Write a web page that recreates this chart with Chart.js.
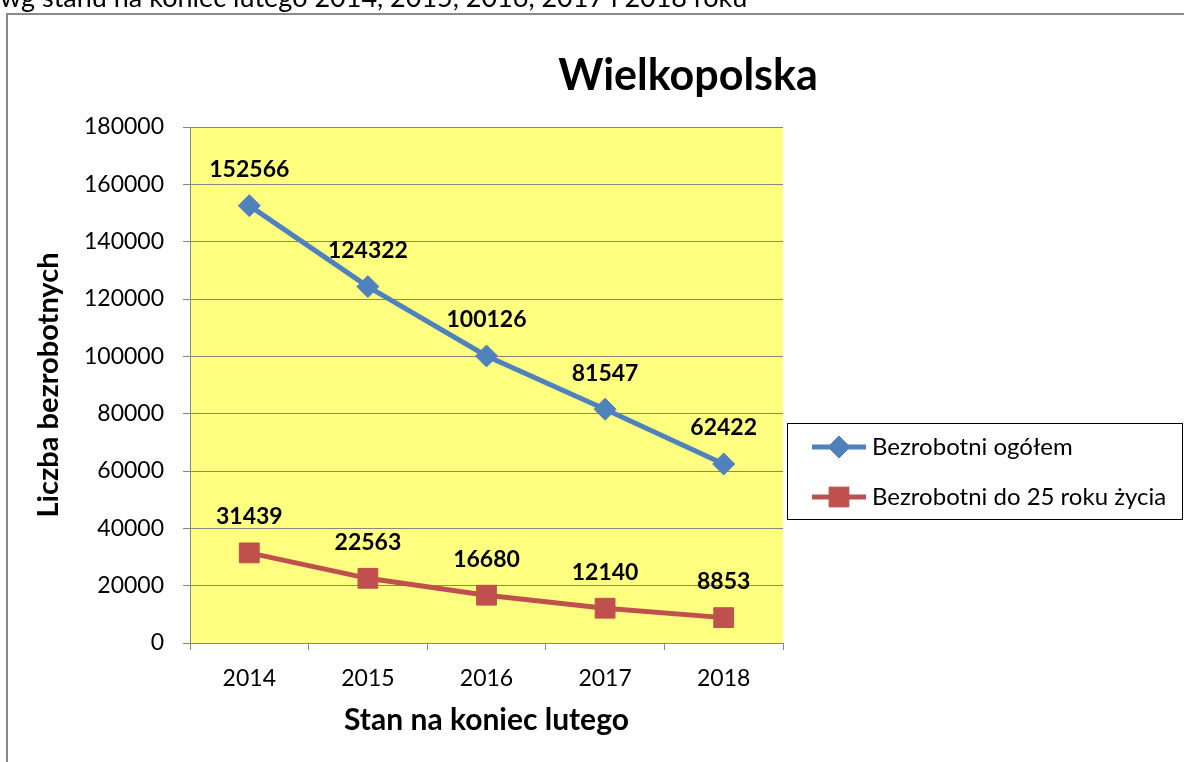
<!DOCTYPE html>
<html>
<head>
<meta charset="utf-8">
<script src="https://cdn.jsdelivr.net/npm/chart.js@4.4.1/dist/chart.umd.min.js"></script>
<style>
  html, body { margin: 0; padding: 0; background: #fff; }
  canvas { display: block; }
</style>
</head>
<body>
<canvas id="chart" width="1184" height="762"></canvas>
<script>
// Data
const years = ['2014', '2015', '2016', '2017', '2018'];
const ogolem = [152566, 124322, 100126, 81547, 62422];
const do25 = [31439, 22563, 16680, 12140, 8853];
const seriesNames = ['Bezrobotni ogółem', 'Bezrobotni do 25 roku życia'];

const BLUE = '#4F81BD';
const RED = '#C0504D';
const GRID = '#868686';
const FONT = 'Lato, "Open Sans", sans-serif';

// yellow plot area, frame, heading
const backdrop = {
    id: 'backdrop',
    beforeDraw(chart) {
        const { ctx, chartArea: a } = chart;
        ctx.save();
        ctx.fillStyle = '#fff';
        ctx.fillRect(0, 0, chart.width, chart.height);
        ctx.fillStyle = '#FFFF80';
        ctx.fillRect(a.left, a.top, a.right - a.left, a.bottom - a.top);

        ctx.strokeStyle = '#8a8a8a';
        ctx.lineWidth = 2;
        ctx.beginPath();
        ctx.moveTo(7, 800);
        ctx.lineTo(7, 14);
        ctx.lineTo(1200, 14);
        ctx.stroke();

        ctx.fillStyle = '#000';
        ctx.textBaseline = 'alphabetic';
        ctx.textAlign = 'left';
        ctx.font = '27px ' + FONT;
        ctx.fillText('wg stanu na koniec lutego 2014, 2015, 2016, 2017 i 2018 roku', 0, 7);

        ctx.textAlign = 'center';
        ctx.textBaseline = 'middle';
        ctx.font = 'bold 43px ' + FONT;
        ctx.fillText('Wielkopolska', 688, 76);
        ctx.restore();
    }
};

// value labels + legend box
const extras = {
    id: 'extras',
    afterDatasetsDraw(chart) {
        const { ctx } = chart;
        ctx.save();
        ctx.fillStyle = '#000';
        ctx.font = 'bold 23px ' + FONT;
        ctx.textAlign = 'center';
        ctx.textBaseline = 'middle';
        chart.data.datasets.forEach((ds, i) => {
            chart.getDatasetMeta(i).data.forEach((pt, j) => {
                ctx.fillText(String(ds.data[j]), pt.x, pt.y - 36);
            });
        });

        ctx.strokeStyle = '#000';
        ctx.lineWidth = 1;
        ctx.strokeRect(787.5, 423.5, 395, 96);
        const rows = [447, 497];
        chart.data.datasets.forEach((ds, i) => {
            const y = rows[i];
            ctx.strokeStyle = ds.borderColor;
            ctx.lineWidth = 5;
            ctx.beginPath();
            ctx.moveTo(812, y);
            ctx.lineTo(866, y);
            ctx.stroke();
            ctx.fillStyle = ds.backgroundColor;
            ctx.strokeStyle = ds.borderColor;
            ctx.lineWidth = 1;
            Chart.helpers.drawPoint(ctx, { pointStyle: ds.pointStyle, radius: ds.pointRadius, rotation: 0, borderWidth: 1 }, 839, y);
            ctx.fillStyle = '#000';
            ctx.font = '24px ' + FONT;
            ctx.textAlign = 'left';
            ctx.textBaseline = 'middle';
            ctx.fillText(ds.label, 872, y);
        });
        ctx.restore();
    }
};

new Chart(document.getElementById('chart'), {
    type: 'line',
    data: {
        labels: years,
        datasets: [
            { label: seriesNames[0], data: ogolem, borderColor: BLUE, backgroundColor: BLUE, borderWidth: 5,
              pointStyle: 'rectRot', pointRadius: 11, pointBorderWidth: 1, tension: 0 },
            { label: seriesNames[1], data: do25, borderColor: RED, backgroundColor: RED, borderWidth: 5,
              pointStyle: 'rect', pointRadius: 14, pointBorderWidth: 1, tension: 0 }
        ]
    },
    options: {
        responsive: false,
        animation: false,
        devicePixelRatio: 1,
        layout: { padding: { left: 20, top: 127, right: 401, bottom: 0 } },
        plugins: { legend: { display: false }, tooltip: { enabled: false } },
        scales: {
            x: {
                offset: true,
                grid: { offset: true, drawOnChartArea: false, tickLength: 7, color: GRID },
                border: { color: GRID },
                ticks: { color: '#000', font: { family: FONT, size: 23 }, padding: 15 },
                title: { display: true, text: 'Stan na koniec lutego', color: '#000',
                         font: { family: FONT, size: 30, weight: 'bold' }, padding: { top: 0, bottom: 24 } },
                afterFit(s) { s.height = 119; }
            },
            y: {
                min: 0, max: 180000,
                grid: { tickLength: 7, color: GRID },
                border: { color: GRID },
                ticks: { stepSize: 20000, color: '#000', font: { family: FONT, size: 23 }, padding: 19,
                         callback: v => String(v) },
                title: { display: true, text: 'Liczba bezrobotnych', color: '#000',
                         font: { family: FONT, size: 29, weight: 'bold' }, padding: { top: 11, bottom: 0 } },
                afterFit(s) { s.width = 170; }
            }
        }
    },
    plugins: [backdrop, extras]
});
</script>
</body>
</html>
